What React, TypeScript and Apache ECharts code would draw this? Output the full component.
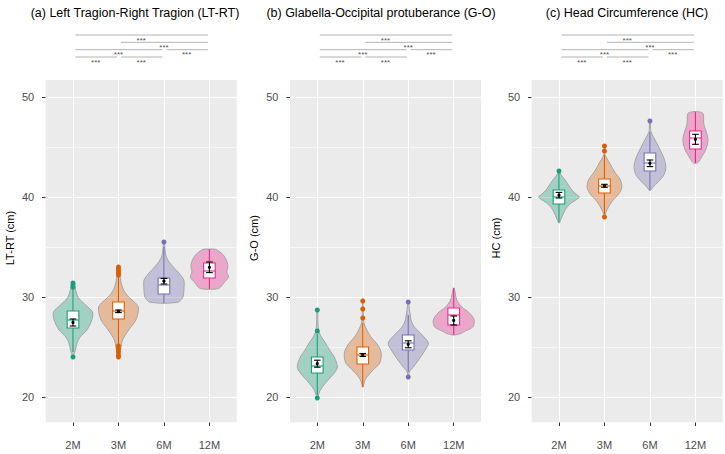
import React, { useEffect, useRef } from "react";
import * as echarts from "echarts";

const categories = ["2M", "3M", "6M", "12M"];
const groupColors = ["#1B9E77", "#D95F02", "#7570B3", "#E7298A"];
const panelTitles = [
  "(a) Left Tragion-Right Tragion (LT-RT)",
  "(b) Glabella-Occipital protuberance (G-O)",
  "(c) Head Circumference (HC)",
];
const yAxisTitles = ["LT-RT (cm)", "G-O (cm)", "HC (cm)"];
const yTickValues = [20, 30, 40, 50];
const yMinorValues = [25, 35, 45];
const significanceLabel = "***";
// [group from, group to, stacking level]
const comparisons = [
  [1, 4, 4],
  [2, 4, 3],
  [1, 3, 2],
  [3, 4, 2],
  [1, 2, 1],
  [2, 3, 1],
];

// violin profiles: [value (cm), relative density]
const violinLTRT = [
  [[24.1, 0.02], [24.7, 0.12], [25.4, 0.2], [26.0, 0.35], [26.7, 0.68], [27.7, 0.92], [28.5, 0.95], [29.2, 0.62], [29.7, 0.35], [30.2, 0.2], [30.8, 0.12], [31.4, 0.03]],
  [[24.0, 0.02], [24.7, 0.1], [25.7, 0.2], [26.7, 0.5], [27.7, 0.85], [28.9, 0.98], [29.4, 0.83], [30.0, 0.5], [30.7, 0.25], [31.5, 0.12], [32.4, 0.07], [33.0, 0.02]],
  [[29.37, 0.05], [29.45, 0.6], [29.55, 0.75], [30.0, 0.93], [30.9, 0.98], [31.7, 0.97], [32.4, 0.73], [32.9, 0.5], [33.5, 0.25], [34.0, 0.12], [34.4, 0.07], [35.0, 0.04], [35.4, 0.02]],
  [[30.77, 0.05], [30.82, 0.4], [31.0, 0.55], [31.4, 0.7], [32.0, 0.93], [32.5, 0.85], [33.0, 0.9], [33.4, 0.88], [33.8, 0.8], [34.2, 0.68], [34.6, 0.45], [34.77, 0.3], [34.8, 0.05]],
];
const violinGO = [
  [[19.9, 0.02], [20.3, 0.07], [20.7, 0.15], [21.4, 0.4], [22.4, 0.83], [23.0, 0.98], [24.0, 0.83], [24.7, 0.6], [25.4, 0.4], [26.0, 0.2], [26.6, 0.07], [27.5, 0.03], [28.7, 0.02]],
  [[21.0, 0.02], [21.5, 0.07], [22.0, 0.2], [22.7, 0.5], [23.4, 0.83], [24.4, 0.9], [25.2, 0.73], [26.0, 0.4], [26.7, 0.2], [27.4, 0.06], [28.0, 0.03], [28.8, 0.02], [29.6, 0.01]],
  [[22.0, 0.02], [22.5, 0.05], [23.0, 0.25], [23.7, 0.5], [24.7, 0.83], [25.4, 0.98], [26.2, 0.68], [27.0, 0.3], [27.6, 0.15], [28.2, 0.1], [28.8, 0.05], [29.5, 0.02]],
  [[26.2, 0.05], [26.35, 0.35], [26.55, 0.52], [27.0, 0.93], [27.7, 1.0], [28.4, 0.77], [29.0, 0.4], [29.7, 0.15], [30.3, 0.08], [30.9, 0.02]],
];
const violinHC = [
  [[37.4, 0.02], [37.9, 0.12], [38.5, 0.25], [39.0, 0.4], [39.4, 0.6], [39.8, 0.9], [40.0, 1.0], [40.3, 0.83], [40.7, 0.63], [41.0, 0.53], [41.7, 0.3], [42.2, 0.1], [42.6, 0.02]],
  [[38.0, 0.02], [38.2, 0.03], [38.7, 0.12], [39.5, 0.35], [40.4, 0.73], [41.0, 0.85], [41.7, 0.78], [42.5, 0.5], [43.4, 0.25], [44.2, 0.03], [44.6, 0.02], [45.1, 0.01]],
  [[40.63, 0.02], [41.0, 0.15], [41.5, 0.4], [42.2, 0.68], [43.0, 0.78], [43.9, 0.68], [44.7, 0.5], [45.7, 0.25], [46.5, 0.05], [47.0, 0.03], [47.6, 0.02]],
  [[43.37, 0.05], [43.5, 0.15], [44.0, 0.3], [44.7, 0.5], [45.4, 0.6], [46.0, 0.6], [46.7, 0.5], [47.4, 0.4], [48.0, 0.4], [48.4, 0.35], [48.55, 0.05]],
];

// boxplot stats: [lower whisker, Q1, median, Q3, upper whisker]
const boxLTRT = [
  [24.5, 26.9, 27.7, 28.6, 30.9],
  [25.3, 27.8, 28.6, 29.5, 32.0],
  [29.4, 30.3, 31.2, 31.9, 35.0],
  [30.8, 31.9, 32.6, 33.4, 34.8],
];
const boxGO = [
  [20.2, 22.4, 23.1, 24.0, 26.3],
  [21.0, 23.3, 24.2, 25.0, 27.4],
  [22.5, 24.7, 25.4, 26.2, 28.2],
  [26.2, 27.2, 28.2, 28.9, 30.9],
];
const boxHC = [
  [37.5, 39.3, 40.0, 40.7, 42.4],
  [38.3, 40.4, 41.1, 41.8, 44.2],
  [40.7, 42.6, 43.4, 44.4, 46.5],
  [43.4, 44.8, 45.9, 46.6, 48.5],
];

// mean and standard error
const meanLTRT = [27.45, 28.57, 31.58, 32.97];
const seLTRT = [0.35, 0.13, 0.28, 0.53];
const meanGO = [23.33, 24.2, 25.27, 27.65];
const seGO = [0.35, 0.15, 0.35, 0.45];
const meanHC = [40.18, 41.12, 43.37, 45.77];
const seHC = [0.28, 0.15, 0.33, 0.5];

// outliers per group
const outliersLTRT = [
  [31.0, 31.2, 31.4, 24.0],
  [32.2, 32.4, 32.6, 32.8, 33.0, 25.1, 24.8, 24.5, 24.2, 24.0],
  [35.5],
  [],
];
const outliersGO = [[26.6, 28.7, 19.9], [27.9, 28.8, 29.6], [29.5, 22.0], []];
const outliersHC = [[42.6], [44.6, 45.1, 38.0], [47.6], []];

const panels = [
  { violins: violinLTRT, boxes: boxLTRT, means: meanLTRT, ses: seLTRT, outliers: outliersLTRT },
  { violins: violinGO, boxes: boxGO, means: meanGO, ses: seGO, outliers: outliersGO },
  { violins: violinHC, boxes: boxHC, means: meanHC, ses: seHC, outliers: outliersHC },
];

const FONT = "'Liberation Sans', Arial, Helvetica, sans-serif";
const panelLefts = [45.7, 290, 531.7];
const panelWidth = 191;
const panelTop = 80;
const panelHeight = 342.3;
const titleCenters = [135, 381, 627];
const yTitleY = 238;

function rgba(hex: string, a: number) {
  const n = parseInt(hex.slice(1), 16);
  return `rgba(${(n >> 16) & 255},${(n >> 8) & 255},${n & 255},${a})`;
}

function buildOption() {
  const grid: any[] = [];
  const xAxis: any[] = [];
  const yAxis: any[] = [];
  const series: any[] = [];
  const graphic: any[] = [];

  panels.forEach((panel, p) => {
    const left = panelLefts[p];
    const mi = 2 * p; // main grid / axis index
    const bi = 2 * p + 1; // bracket grid / axis index

    grid.push({
      left,
      top: panelTop,
      width: panelWidth,
      height: panelHeight,
      show: true,
      backgroundColor: "#EBEBEB",
      borderWidth: 0,
    });
    xAxis.push({
      type: "value",
      gridIndex: mi,
      min: 0.4,
      max: 4.6,
      axisLine: { show: false },
      splitLine: { show: false },
      axisTick: {
        show: true,
        customValues: [1, 2, 3, 4],
        length: 3.7,
        lineStyle: { color: "#333333", width: 1 },
      },
      axisLabel: {
        customValues: [1, 2, 3, 4],
        formatter: (v: number) => categories[Math.round(v) - 1],
        margin: 17,
        fontSize: 11,
        color: "#4D4D4D",
        fontFamily: FONT,
      },
    });
    yAxis.push({
      type: "value",
      gridIndex: mi,
      min: 17.47,
      max: 51.7,
      axisLine: { show: false },
      splitLine: { show: false },
      axisTick: {
        show: true,
        customValues: yTickValues,
        length: 3.7,
        lineStyle: { color: "#333333", width: 1 },
      },
      axisLabel: {
        customValues: yTickValues,
        margin: 11.5,
        fontSize: 11,
        color: "#4D4D4D",
        fontFamily: FONT,
      },
    });

    // significance brackets grid
    grid.push({ left, top: 27.67, width: panelWidth, height: 36.67, show: false });
    xAxis.push({ type: "value", gridIndex: bi, min: 0.4, max: 4.6, show: false });
    yAxis.push({ type: "value", gridIndex: bi, min: 0, max: 5, show: false });

    // grid lines
    series.push({
      type: "line",
      xAxisIndex: mi,
      yAxisIndex: mi,
      data: [],
      silent: true,
      z: 1,
      markLine: {
        silent: true,
        z: 1,
        symbol: ["none", "none"],
        label: { show: false },
        emphasis: { disabled: true },
        lineStyle: { color: "#FFFFFF", type: "solid" },
        data: [
          ...yMinorValues.map((v) => ({ yAxis: v, lineStyle: { width: 0.55, color: "#FFFFFF", type: "solid" } })),
          ...yTickValues.map((v) => ({ yAxis: v, lineStyle: { width: 1.1, color: "#FFFFFF", type: "solid" } })),
          ...[1, 2, 3, 4].map((v) => ({ xAxis: v, lineStyle: { width: 1.1, color: "#FFFFFF", type: "solid" } })),
        ],
      },
    });

    // violins
    series.push({
      type: "custom",
      xAxisIndex: mi,
      yAxisIndex: mi,
      z: 3,
      silent: true,
      data: panel.violins.map((prof, i) => [i + 1, prof[0][0]]),
      renderItem: (params: any, api: any) => {
        const i = params.dataIndex;
        const prof = panel.violins[i];
        const cx = i + 1;
        const right = prof.map(([v, d]) => api.coord([cx + d * 0.45, v]));
        const leftSide = prof
          .slice()
          .reverse()
          .map(([v, d]) => api.coord([cx - d * 0.45, v]));
        return {
          type: "polygon",
          shape: { points: right.concat(leftSide), smooth: 0.3 },
          style: { fill: rgba(groupColors[i], 0.35), stroke: "#A6A6A6", lineWidth: 1 },
        };
      },
    });

    // boxplots
    series.push({
      type: "custom",
      xAxisIndex: mi,
      yAxisIndex: mi,
      z: 4,
      silent: true,
      data: panel.boxes.map((b, i) => [i + 1, b[2]]),
      renderItem: (params: any, api: any) => {
        const i = params.dataIndex;
        const [lo, q1, med, q3, hi] = panel.boxes[i];
        const cx = i + 1;
        const hw = 0.128;
        const color = groupColors[i];
        const pLo = api.coord([cx, lo]);
        const pHi = api.coord([cx, hi]);
        const tl = api.coord([cx - hw, q3]);
        const br = api.coord([cx + hw, q1]);
        const ml = api.coord([cx - hw, med]);
        const mr = api.coord([cx + hw, med]);
        return {
          type: "group",
          children: [
            { type: "line", shape: { x1: pLo[0], y1: pLo[1], x2: pHi[0], y2: pHi[1] }, style: { stroke: color, lineWidth: 1.1 } },
            { type: "rect", shape: { x: tl[0], y: tl[1], width: br[0] - tl[0], height: br[1] - tl[1] }, style: { fill: "#FFFFFF", stroke: color, lineWidth: 1.1 } },
            { type: "line", shape: { x1: ml[0], y1: ml[1], x2: mr[0], y2: mr[1] }, style: { stroke: color, lineWidth: 1.1 } },
          ],
        };
      },
    });

    // outliers
    const outlierData: any[] = [];
    panel.outliers.forEach((arr, i) => arr.forEach((v) => outlierData.push([i + 1, v, i])));
    series.push({
      type: "scatter",
      xAxisIndex: mi,
      yAxisIndex: mi,
      z: 5,
      silent: true,
      symbolSize: 5,
      data: outlierData,
      itemStyle: { color: (prm: any) => groupColors[prm.value[2]], opacity: 1 },
    });

    // mean +/- SE error bars
    series.push({
      type: "custom",
      xAxisIndex: mi,
      yAxisIndex: mi,
      z: 6,
      silent: true,
      data: panel.means.map((m, i) => [i + 1, m]),
      renderItem: (params: any, api: any) => {
        const i = params.dataIndex;
        const m = panel.means[i];
        const s = panel.ses[i];
        const cx = i + 1;
        const cw = 0.073;
        const top = api.coord([cx, m + s]);
        const bot = api.coord([cx, m - s]);
        const tl = api.coord([cx - cw, m + s]);
        const tr = api.coord([cx + cw, m + s]);
        const bl = api.coord([cx - cw, m - s]);
        const brr = api.coord([cx + cw, m - s]);
        const c = api.coord([cx, m]);
        const st = { stroke: "#000000", lineWidth: 1.1 };
        return {
          type: "group",
          children: [
            { type: "line", shape: { x1: top[0], y1: top[1], x2: bot[0], y2: bot[1] }, style: st },
            { type: "line", shape: { x1: tl[0], y1: tl[1], x2: tr[0], y2: tr[1] }, style: st },
            { type: "line", shape: { x1: bl[0], y1: bl[1], x2: brr[0], y2: brr[1] }, style: st },
            { type: "circle", shape: { cx: c[0], cy: c[1], r: 1.6 }, style: { fill: "#000000" } },
          ],
        };
      },
    });

    // significance brackets
    series.push({
      type: "custom",
      xAxisIndex: bi,
      yAxisIndex: bi,
      silent: true,
      clip: false,
      data: comparisons.map((c) => [c[0], c[1], c[2]]),
      encode: { x: [0, 1], y: 2 },
      renderItem: (params: any, api: any) => {
        const a = api.value(0);
        const b = api.value(1);
        const l = api.value(2);
        const p1 = api.coord([a + 0.055, l]);
        const p2 = api.coord([b - 0.033, l]);
        const mid = api.coord([(a + b) / 2, l]);
        return {
          type: "group",
          children: [
            { type: "line", shape: { x1: p1[0], y1: p1[1], x2: p2[0], y2: p2[1] }, style: { stroke: "#A0A0A0", lineWidth: 0.8 } },
            {
              type: "text",
              x: mid[0],
              y: mid[1] + 1,
              style: {
                text: significanceLabel,
                fontSize: 8,
                fontFamily: FONT,
                fill: "#555555",
                align: "center",
                verticalAlign: "top",
              },
            },
          ],
        };
      },
    });

    graphic.push({
      type: "text",
      x: titleCenters[p],
      y: 12.5,
      silent: true,
      style: {
        text: panelTitles[p],
        fontSize: 12.5,
        fontFamily: FONT,
        fill: "#000000",
        align: "center",
        verticalAlign: "middle",
      },
    });
    graphic.push({
      type: "text",
      x: left - 35.7,
      y: yTitleY,
      rotation: Math.PI / 2,
      silent: true,
      style: {
        text: yAxisTitles[p],
        fontSize: 11,
        fontFamily: FONT,
        fill: "#000000",
        align: "center",
        verticalAlign: "middle",
      },
    });
  });

  return {
    animation: false,
    textStyle: { fontFamily: FONT },
    grid,
    xAxis,
    yAxis,
    series,
    graphic,
  };
}

export default function App() {
  const ref = useRef<HTMLDivElement>(null);
  useEffect(() => {
    document.body.style.margin = "0";
    if (!ref.current) return;
    const chart = echarts.init(ref.current, undefined, { renderer: "svg" });
    chart.setOption(buildOption() as any);
    return () => chart.dispose();
  }, []);
  return <div ref={ref} style={{ width: 725, height: 454, background: "#FFFFFF" }} />;
}
